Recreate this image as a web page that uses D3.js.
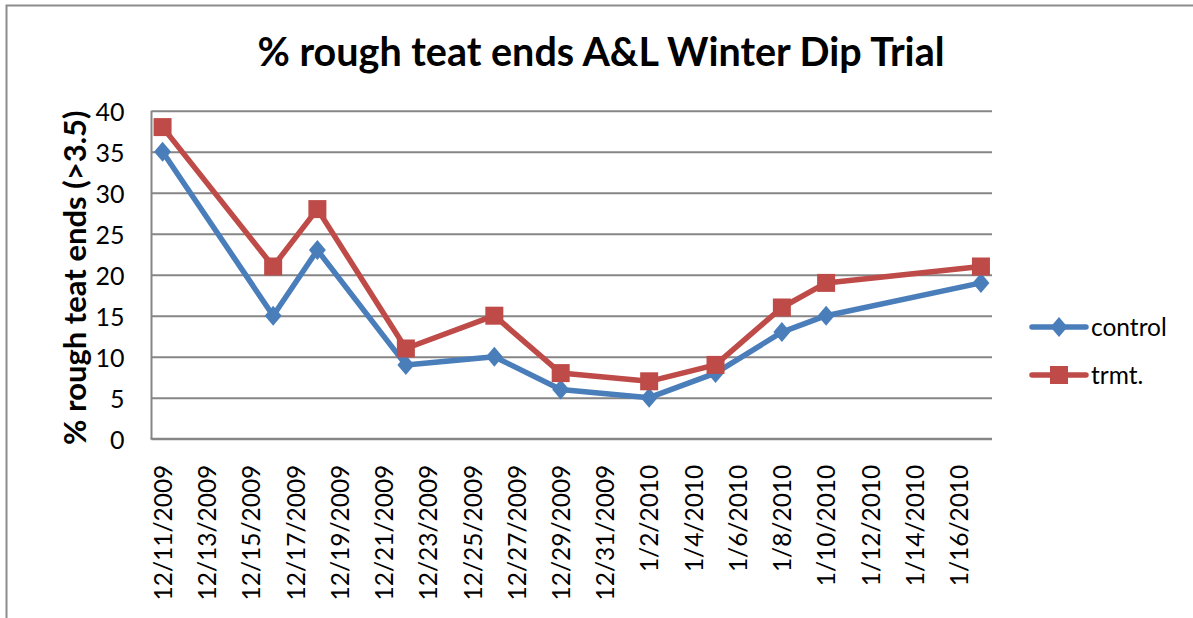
<!DOCTYPE html>
<html>
<head>
<meta charset="utf-8">
<script src="https://cdn.jsdelivr.net/npm/d3@7"></script>
<style>
	body { margin: 0; background: #fff; }
	svg { display: block; font-family: Lato, "Open Sans", sans-serif; }
	.grid line { stroke: #868686; stroke-width: 2; }
	.grid path { display: none; }
	.ylab text { font-size: 25px; fill: #000; }
	.xlab text { font-size: 24.5px; fill: #000; }
</style>
</head>
<body>
<script>
var w = 1193, h = 618;

// sample dates and readings
var dates = ["2009-12-11", "2009-12-16", "2009-12-18", "2009-12-22", "2009-12-26", "2009-12-29",
	"2010-01-02", "2010-01-05", "2010-01-08", "2010-01-10", "2010-01-17"];
var control = [35, 15, 23, 9, 10, 6, 5, 8, 13, 15, 19];
var trmt = [38, 21, 28, 11, 15, 8, 7, 9, 16, 19, 21];
var seriesNames = ["control", "trmt."];
var yTicks = [0, 5, 10, 15, 20, 25, 30, 35, 40];
var axisStart = "2009-12-11", axisEnd = "2010-01-17";

var colors = { "control": "#4A7EBB", "trmt.": "#BE4B48" };

var parse = d3.utcParse("%Y-%m-%d");
var fmt = d3.utcFormat("%-m/%-d/%Y");

var plot = { left: 151.5, right: 992, top: 110.7, bottom: 438.7 };

var svg = d3.select("body").append("svg")
	.attr("width", w)
	.attr("height", h);

// outer chart frame
svg.append("rect")
	.attr("x", 6.5).attr("y", 5.5)
	.attr("width", w + 20).attr("height", h + 20)
	.attr("fill", "none")
	.attr("stroke", "#8c8c8c")
	.attr("stroke-width", 2);

var start = parse(axisStart), end = parse(axisEnd);
var x = d3.scaleUtc()
	.domain([d3.utcHour.offset(start, -12), d3.utcHour.offset(end, 12)])
	.range([plot.left, plot.right]);

var y = d3.scaleLinear()
	.domain([0, 40])
	.range([plot.bottom, plot.top]);

// Gridlines
svg.append("g")
	.attr("class", "grid")
	.attr("transform", "translate(" + plot.left + ",0)")
	.call(d3.axisLeft(y).tickValues(yTicks).tickSize(-(plot.right - plot.left)).tickFormat(""));

// Y labels
svg.append("g")
	.attr("class", "ylab")
	.attr("transform", "translate(" + plot.left + ",0)")
	.call(d3.axisLeft(y).tickValues(yTicks).tickSize(0).tickPadding(27))
	.call(function(g) { g.select(".domain").remove(); })
	.selectAll("text").attr("font-family", "Lato, sans-serif").attr("dy", "0.38em");

// Axis lines
svg.append("line")
	.attr("x1", plot.left).attr("x2", plot.left)
	.attr("y1", plot.top).attr("y2", plot.bottom)
	.attr("stroke", "#868686").attr("stroke-width", 2);
svg.append("line")
	.attr("x1", plot.left - 1).attr("x2", plot.right)
	.attr("y1", plot.bottom).attr("y2", plot.bottom)
	.attr("stroke", "#868686").attr("stroke-width", 2);

// X labels every 2 days
var tickDates = d3.utcDay.range(start, end, 2);
svg.append("g")
	.attr("class", "xlab")
	.attr("transform", "translate(0," + plot.bottom + ")")
	.call(d3.axisBottom(x).tickValues(tickDates).tickFormat(fmt).tickSize(0))
	.call(function(g) { g.select(".domain").remove(); })
	.selectAll("text")
		.attr("font-family", "Lato, sans-serif")
		.attr("transform", "rotate(-90)")
		.attr("text-anchor", "end")
		.attr("x", -26)
		.attr("y", 0)
		.attr("dy", "0.36em");

// Series
var series = [
	{ name: "control", values: control, shape: d3.symbolDiamond },
	{ name: "trmt.", values: trmt, shape: d3.symbolSquare }
];

var line = d3.line()
	.x(function(d) { return x(parse(d.date)); })
	.y(function(d) { return y(d.v); });

series.forEach(function(s) {
	var pts = dates.map(function(d, i) { return { date: d, v: s.values[i] }; });
	svg.append("path")
		.datum(pts)
		.attr("d", line)
		.attr("fill", "none")
		.attr("stroke", colors[s.name])
		.attr("stroke-width", 5.5)
		.attr("stroke-linejoin", "round");
});

function marker(g, s, cx, cy) {
	if (s.shape === d3.symbolSquare) {
		g.append("rect")
			.attr("x", cx - 9).attr("y", cy - 9)
			.attr("width", 18).attr("height", 18)
			.attr("fill", colors[s.name]);
	} else {
		g.append("path")
			.attr("d", "M" + cx + "," + (cy - 10) + "L" + (cx + 8.5) + "," + cy + "L" + cx + "," + (cy + 10) + "L" + (cx - 8.5) + "," + cy + "Z")
			.attr("fill", colors[s.name]);
	}
}

series.forEach(function(s) {
	var g = svg.append("g");
	dates.forEach(function(d, i) {
		marker(g, s, x(parse(d)), y(s.values[i]));
	});
});

// Legend
var legend = svg.append("g");
series.forEach(function(s, i) {
	var ly = 327 + i * 48;
	legend.append("line")
		.attr("x1", 1032).attr("x2", 1086)
		.attr("y1", ly).attr("y2", ly)
		.attr("stroke", colors[s.name])
		.attr("stroke-width", 5.5)
		.attr("stroke-linecap", "round");
	marker(legend, s, 1059, ly);
	legend.append("text")
		.attr("x", 1091).attr("y", ly)
		.attr("dy", "0.36em")
		.attr("font-size", 24.5)
		.text(s.name);
});

// Title
svg.append("text")
	.attr("x", 601).attr("y", 66)
	.attr("text-anchor", "middle")
	.attr("font-size", 39.5)
	.attr("font-weight", "bold")
	.text("% rough teat ends A&L Winter Dip Trial");

// Y axis title
svg.append("text")
	.attr("transform", "translate(86," + ((plot.top + plot.bottom) / 2 + 3) + ") rotate(-90)")
	.attr("text-anchor", "middle")
	.attr("font-size", 31)
	.attr("font-weight", "bold")
	.text("% rough teat ends (>3.5)");
</script>
</body>
</html>
